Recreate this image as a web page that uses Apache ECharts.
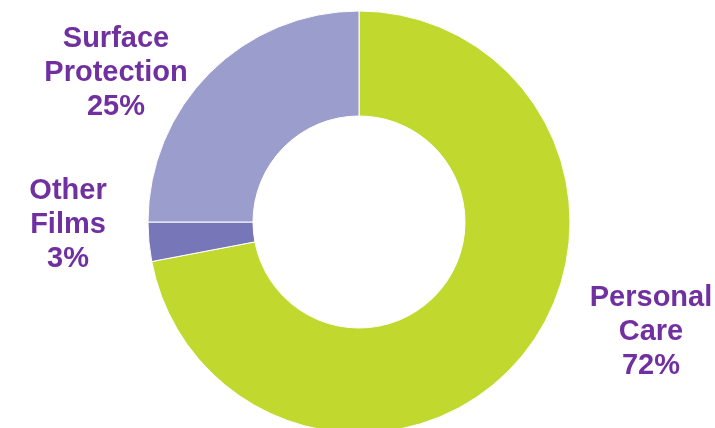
<!DOCTYPE html>
<html>
<head>
<meta charset="utf-8">
<script src="https://cdn.jsdelivr.net/npm/echarts@6/dist/echarts.min.js"></script>
<style>
  html, body { margin: 0; padding: 0; background: #fff; }
  #chart { width: 715px; height: 428px; }
</style>
</head>
<body>
<div id="chart"></div>
<script>
// Market share by segment
const categories = ['Personal\nCare', 'Other\nFilms', 'Surface\nProtection'];
const shares = [72, 3, 25];
const sliceColors = ['#C1D92F', '#7676B9', '#9B9DCD'];

// Label block centres, one per slice
const labelSpots = [[651, 332], [68, 225], [116, 73]];

const chart = echarts.init(document.getElementById('chart'), null, { renderer: 'canvas' });

chart.setOption({
  animation: false,
  series: [{
    type: 'pie',
    center: [359, 222],
    radius: [106, 211],
    startAngle: 90,
    clockwise: true,
    data: categories.map((c, i) => ({
      name: c,
      value: shares[i],
      itemStyle: { color: sliceColors[i] }
    })),
    itemStyle: { borderColor: '#ffffff', borderWidth: 1 },
    label: {
      show: true,
      position: 'outside',
      formatter: p => p.name + '\n' + p.value + '%',
      fontFamily: 'Liberation Sans, Arial, sans-serif',
      fontWeight: 'bold',
      fontSize: 29,
      lineHeight: 34,
      color: '#7030A0',
      align: 'center'
    },
    labelLine: { show: false },
    labelLayout: params => ({
      x: labelSpots[params.dataIndex][0],
      y: labelSpots[params.dataIndex][1],
      align: 'center',
      verticalAlign: 'middle'
    }),
    emphasis: { disabled: true }
  }]
});
</script>
</body>
</html>
